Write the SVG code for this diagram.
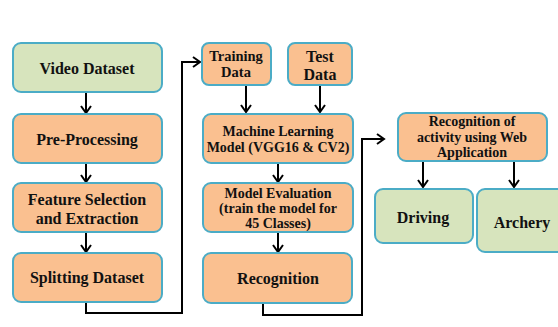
<svg xmlns="http://www.w3.org/2000/svg" width="558" height="327" viewBox="0 0 558 327">
<defs>
<style>
.g{fill:#d7e4bd;stroke:#4bacc6;stroke-width:2}
.o{fill:#fac090;stroke:#4bacc6;stroke-width:2}
text{font-family:"Liberation Serif","DejaVu Serif",serif;font-weight:bold;fill:#111;text-anchor:middle;dominant-baseline:central}
.l{font-size:16px}
.m{font-size:14.5px}
.s{font-size:14px}
.c{fill:none;stroke:#000;stroke-width:2}
</style>
<marker id="a" markerWidth="12" markerHeight="12" refX="10" refY="6" orient="auto" markerUnits="userSpaceOnUse">
<path d="M3,1 L10,6 L3,11" fill="none" stroke="#000" stroke-width="2"/>
</marker>
</defs>
<rect width="558" height="327" fill="#fff"/>
<g id="connectors">
<path class="c" d="M86,92 V113" marker-end="url(#a)"/>
<path class="c" d="M86,163 V182" marker-end="url(#a)"/>
<path class="c" d="M86,232 V252" marker-end="url(#a)"/>
<path class="c" d="M86,302 V313 H182 V62 H200" marker-end="url(#a)"/>
<path class="c" d="M246,85 V112" marker-end="url(#a)"/>
<path class="c" d="M320,85 V112" marker-end="url(#a)"/>
<path class="c" d="M278,163 V182" marker-end="url(#a)"/>
<path class="c" d="M278,232 V252" marker-end="url(#a)"/>
<path class="c" d="M263,303 V315 H362 V139 H384" marker-end="url(#a)"/>
<path class="c" d="M423,161 V187" marker-end="url(#a)"/>
<path class="c" d="M514,161 V187" marker-end="url(#a)"/>
</g>
<g id="video-dataset"><rect class="g" x="13" y="43" width="149" height="49" rx="8"/><text class="l" x="87" y="68">Video Dataset</text></g>
<g id="pre-processing"><rect class="o" x="13" y="114" width="149" height="49" rx="8"/><text class="l" x="87" y="139">Pre-Processing</text></g>
<g id="feature-selection"><rect class="o" x="13" y="183" width="149" height="49" rx="8"/><text class="l" x="87" y="199">Feature Selection</text><text class="l" x="87" y="218">and Extraction</text></g>
<g id="splitting-dataset"><rect class="o" x="13" y="253" width="149" height="49" rx="8"/><text class="l" x="87" y="277">Splitting Dataset</text></g>
<g id="training-data"><rect class="o" x="202" y="43" width="69" height="42" rx="7"/><text class="m" x="236" y="56">Training</text><text class="m" x="236" y="72">Data</text></g>
<g id="test-data"><rect class="o" x="288" y="43" width="64" height="42" rx="7"/><text class="l" x="320" y="56">Test</text><text class="l" x="320" y="74">Data</text></g>
<g id="ml-model"><rect class="o" x="203" y="114" width="150" height="49" rx="8"/><text class="s" x="278" y="131">Machine Learning</text><text class="s" x="278" y="147">Model (VGG16 &amp; CV2)</text></g>
<g id="model-evaluation"><rect class="o" x="203" y="183" width="150" height="49" rx="8"/><text class="s" x="278" y="193">Model Evaluation</text><text class="s" x="278" y="208">(train the model for</text><text class="s" x="278" y="223">45 Classes)</text></g>
<g id="recognition"><rect class="o" x="203" y="253" width="149" height="50" rx="8"/><text class="l" x="278" y="278">Recognition</text></g>
<g id="web-app"><rect class="o" x="398" y="113" width="149" height="48" rx="8"/><text class="s" x="472" y="121">Recognition of</text><text class="s" x="472" y="137">activity using Web</text><text class="s" x="472" y="152">Application</text></g>
<g id="driving"><rect class="g" x="375" y="189" width="98" height="54" rx="8"/><text class="l" x="423" y="217">Driving</text></g>
<g id="archery"><rect class="g" x="477" y="189" width="95" height="63" rx="8"/><text class="l" x="522" y="222">Archery</text></g>
</svg>
